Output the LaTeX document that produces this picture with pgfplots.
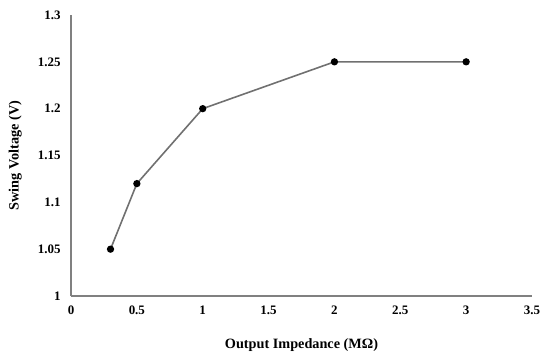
\documentclass[border=0pt]{standalone}
\usepackage{pgfplots}
\pgfplotsset{compat=1.18}
\usepackage{fontspec}
\setmainfont{Liberation Serif}
\begin{document}
\begin{tikzpicture}
\begin{axis}[
  scale only axis,
  width=461bp, height=281bp,
  xmin=0, xmax=3.5, ymin=1, ymax=1.3,
  xtick={0,0.5,...,3.5},
  ytick={1,1.05,1.1,1.15,1.2,1.25,1.3},
  axis x line*=bottom, axis y line*=left,
  axis line style={color={rgb,255:red,128;green,128;blue,128}, line width=1.6pt, -},
  major tick length=0pt,
  /pgf/number format/assume math mode=true,
  ticklabel style={font=\fontsize{13}{15}\selectfont\bfseries},
  xticklabel style={yshift=-6bp},
  yticklabel style={xshift=-7bp},
  yticklabel={\pgfmathprintnumber[fixed,precision=2]{\tick}},
  xticklabel={\pgfmathprintnumber[fixed,precision=1]{\tick}},
  xlabel={Output Impedance (M\symbol{"03A9})},
  ylabel={Swing Voltage (V)},
  label style={font=\fontsize{14.3}{16}\selectfont\bfseries},
  xlabel style={at={(axis description cs:0.5,-0.174)}, anchor=center},
  ylabel style={at={(axis description cs:-0.121,0.5)}, anchor=center},
  clip=false,
]
\addplot[color={rgb,255:red,112;green,112;blue,112}, line width=1.6pt, mark=*, mark size=2.8bp,
  mark options={draw=black, fill=black}]
  coordinates {(0.3,1.05) (0.5,1.12) (1,1.2) (2,1.25) (3,1.25)};
\end{axis}
\path ([xshift=-71bp,yshift=-66bp]current axis.south west) rectangle ([xshift=18bp,yshift=15bp]current axis.north east);
\end{tikzpicture}
\end{document}
